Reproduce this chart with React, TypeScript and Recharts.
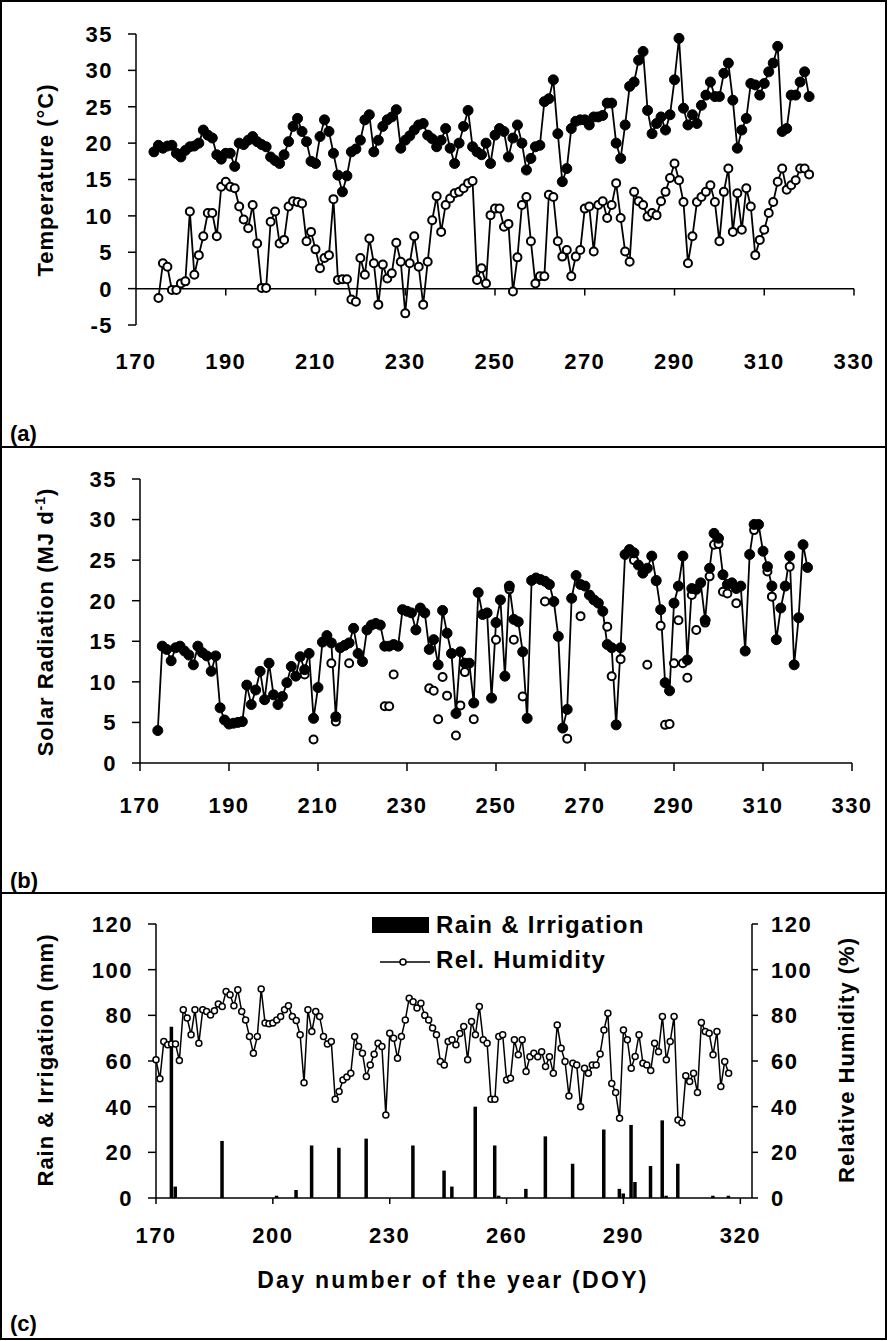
import React from "react";
import { ComposedChart, Line, Bar, XAxis, YAxis, ReferenceLine } from "recharts";

const FONT = '"Liberation Sans", Arial, Helvetica, sans-serif';

// (a) daily max / min air temperature, DOY 174.. / 175..
const TMAX_START = 174;
const tmaxValues = [
  18.8, 19.7, 19.3, 19.6, 19.7, 18.6, 18.1, 19.0, 19.5, 19.6,
  20.0, 21.8, 21.1, 20.7, 18.4, 17.8, 18.6, 18.6, 16.8, 20.0,
  19.8, 20.4, 20.9, 20.2, 19.8, 19.5, 18.1, 17.6, 17.2, 18.4,
  20.2, 22.3, 23.4, 21.6, 20.2, 17.5, 17.2, 20.9, 23.2, 21.6,
  18.6, 15.6, 13.3, 15.5, 18.8, 19.2, 20.4, 23.2, 23.9, 18.8,
  20.4, 22.3, 23.2, 23.6, 24.6, 19.3, 20.4, 21.0, 21.8, 22.5,
  22.7, 21.1, 20.6, 19.5, 20.4, 22.0, 19.3, 17.2, 20.0, 22.3,
  24.5, 19.5, 18.8, 18.4, 20.0, 17.2, 21.1, 22.0, 21.6, 18.1,
  20.7, 22.5, 20.0, 16.3, 17.9, 19.5, 19.7, 25.7, 26.1, 28.7,
  21.3, 14.7, 16.5, 22.0, 23.0, 23.2, 23.2, 22.5, 23.6, 23.6,
  23.8, 25.5, 25.5, 20.0, 17.9, 22.5, 27.8, 28.4, 31.4, 32.6,
  24.5, 21.3, 22.7, 23.6, 21.8, 23.9, 28.7, 34.4, 24.8, 22.5,
  23.9, 22.7, 25.2, 26.6, 28.4, 26.4, 26.4, 29.6, 31.0, 25.9,
  19.3, 21.8, 23.4, 28.2, 28.0, 26.6, 28.2, 29.8, 31.0, 33.3,
  21.6, 22.0, 26.6, 26.6, 28.4, 29.8, 26.4,
];
const TMIN_START = 175;
const tminValues = [
  -1.3, 3.5, 3.0, -0.2, -0.2, 0.7, 1.0, 10.6, 1.9,
  4.6, 7.2, 10.4, 10.4, 7.2, 14.0, 14.7, 14.0, 13.8, 11.3,
  9.5, 8.3, 11.5, 6.2, 0.1, 0.1, 9.2, 10.6, 6.2, 6.7,
  11.3, 12.0, 11.9, 11.7, 6.5, 7.8, 5.4, 2.8, 4.2, 4.6,
  12.3, 1.2, 1.3, 1.3, -1.5, -1.8, 4.2, 1.9, 6.9, 3.5,
  -2.2, 3.3, 1.4, 2.1, 6.3, 3.7, -3.4, 3.5, 7.2, 3.0,
  -2.2, 3.7, 9.4, 12.7, 7.8, 11.5, 12.4, 13.1, 13.3, 13.8,
  14.5, 14.8, 1.2, 2.8, 0.7, 10.1, 11.0, 11.0, 8.5, 8.9,
  -0.4, 4.3, 11.5, 12.6, 6.5, 0.7, 1.7, 1.7, 12.9, 12.6,
  6.5, 4.4, 5.3, 1.7, 4.4, 5.3, 11.0, 11.3, 5.1, 11.5,
  12.0, 9.7, 11.5, 14.5, 9.7, 5.1, 3.7, 13.3, 12.0, 11.5,
  9.9, 10.4, 10.1, 12.0, 13.3, 15.2, 17.2, 14.9, 11.9, 3.5,
  7.2, 11.9, 12.6, 13.3, 14.2, 11.9, 6.5, 13.3, 16.5, 7.8,
  13.1, 8.1, 13.8, 11.3, 4.6, 6.7, 8.1, 10.4, 11.9, 14.7,
  16.5, 13.6, 14.2, 14.9, 16.5, 16.5, 15.7,
];
const tempTicksX = [170, 190, 210, 230, 250, 270, 290, 310, 330];
const tempTicksY = [-5, 0, 5, 10, 15, 20, 25, 30, 35];

// (b) solar radiation, DOY 174..320 (filled) and the scattered open circles
const SOLAR_START = 174;
const solarFilled = [
  4.0, 14.4, 14.0, 12.6, 14.2, 14.4, 13.8, 13.3, 12.1, 14.4,
  13.6, 13.2, 11.3, 13.2, 6.8, 5.3, 4.8, 4.9, 5.0, 5.1,
  9.6, 7.2, 9.0, 11.3, 7.8, 12.3, 8.4, 7.2, 8.2, 9.9,
  11.9, 10.7, 13.1, 11.5, 13.5, 5.5, 9.3, 14.9, 15.7, 14.8,
  5.7, 14.2, 14.5, 14.8, 16.6, 13.5, 12.5, 16.4, 17.0, 17.2,
  17.0, 14.4, 14.4, 14.6, 14.4, 18.9, 18.7, 18.5, 16.4, 19.1,
  18.5, 14.0, 15.2, 12.1, 18.8, 16.0, 13.5, 6.1, 13.7, 12.3,
  12.3, 7.4, 21.0, 18.3, 18.5, 8.0, 17.3, 20.1, 10.7, 21.8,
  17.7, 17.4, 13.7, 5.5, 22.5, 22.8, 22.6, 22.4, 22.0, 19.9,
  15.6, 4.3, 6.6, 20.3, 23.1, 22.0, 21.8, 20.7, 20.1, 19.7,
  18.7, 14.6, 14.2, 4.7, 14.2, 25.7, 26.3, 25.9, 24.4, 23.4,
  24.0, 25.5, 22.5, 18.9, 9.9, 8.9, 19.7, 21.8, 25.5, 12.7,
  21.5, 21.4, 22.2, 17.6, 24.0, 28.3, 27.7, 23.2, 22.0, 22.2,
  21.5, 21.8, 13.8, 25.7, 29.4, 29.4, 26.1, 24.2, 21.8, 15.2,
  19.1, 21.8, 25.5, 12.1, 17.9, 26.9, 24.1,
];
const solarOpenDays = [
  207, 209, 213, 214, 217, 225, 226, 227, 235, 236, 237, 238, 239, 241, 242, 243,
  245, 250, 253, 254, 256, 261, 266, 269, 275, 276, 278, 281, 284, 286, 287, 288,
  289, 290, 291, 292, 293, 294, 295, 297, 298, 299, 300, 301, 302, 304, 308, 311,
  312, 316,
];
const solarOpenValues = [
  10.9, 2.9, 12.3, 5.1, 12.3, 7.0, 7.0, 10.9, 9.2, 8.9, 5.4, 10.6, 8.3, 3.4, 7.1, 11.2,
  5.4, 15.2, 21.4, 15.2, 8.2, 19.9, 3.0, 18.1, 16.8, 10.7, 12.8, 25.0, 12.1, 22.4, 16.9, 4.7,
  4.8, 12.3, 17.6, 12.3, 10.5, 20.7, 16.4, 17.3, 23.0, 26.9, 27.0, 21.1, 20.9, 19.7, 28.7, 23.6,
  20.5, 24.2,
];
const solarTicksY = [0, 5, 10, 15, 20, 25, 30, 35];

// (c) relative humidity DOY 170..317, rain & irrigation events
const RH_START = 170;
const rhValues = [
  60.5, 52.2, 68.5, 67.1, 67.5, 67.5, 60.2, 82.4, 78.8, 71.5,
  82.4, 67.8, 82.4, 81.7, 80.2, 82.0, 85.0, 83.9, 90.4, 89.0,
  84.2, 91.2, 81.7, 78.0, 70.7, 63.4, 70.7, 91.5, 76.6, 76.3,
  76.6, 78.0, 79.5, 82.4, 84.2, 79.5, 77.7, 71.5, 50.5, 82.4,
  72.9, 81.7, 79.5, 70.7, 67.5, 68.5, 43.2, 46.6, 51.7, 53.0,
  54.6, 70.7, 66.3, 63.4, 53.2, 58.3, 63.0, 67.8, 66.3, 36.4,
  72.2, 70.0, 61.2, 70.7, 78.0, 87.5, 86.0, 83.2, 85.3, 80.0,
  78.0, 74.4, 71.5, 59.8, 58.3, 68.5, 69.3, 67.1, 72.0, 75.1,
  60.5, 77.3, 71.5, 83.9, 69.3, 67.8, 43.2, 43.2, 70.7, 71.5,
  51.7, 52.4, 69.3, 62.7, 69.3, 55.4, 61.9, 63.4, 61.9, 64.1,
  57.6, 61.9, 54.6, 75.8, 65.6, 59.8, 44.7, 59.0, 58.3, 40.0,
  56.8, 54.6, 58.3, 58.3, 63.1, 73.6, 80.9, 50.2, 46.2, 34.9,
  73.6, 69.3, 56.8, 62.0, 71.5, 59.0, 58.3, 55.8, 67.8, 64.1,
  79.5, 60.5, 68.5, 79.5, 34.2, 33.0, 53.5, 51.0, 54.6, 46.2,
  76.9, 72.9, 72.2, 62.7, 72.9, 48.8, 59.8, 54.6,
];
const rainDays = [
  174, 175, 187, 201, 206, 210, 217, 224, 236, 244, 246, 252, 257, 258, 265, 270,
  277, 285, 289, 290, 292, 293, 297, 300, 301, 304, 313, 317,
];
const rainValues = [
  75, 5, 25, 1, 3.5, 23, 22, 26, 23, 12, 5, 40, 23, 1, 4, 27,
  15, 30, 4, 2, 32, 7, 14, 34, 1, 15, 1, 1,
];
const doyTicks = [170, 200, 230, 260, 290, 320];
const mmTicks = [0, 20, 40, 60, 80, 100, 120];

// merge series into one row per day
function mergeRows(series: Array<[string, number[], number[]]>) {
  const map = new Map<number, Record<string, number | null>>();
  for (const [key, days, values] of series) {
    days.forEach((d, i) => {
      if (!map.has(d)) map.set(d, { doy: d });
      map.get(d)![key] = values[i];
    });
  }
  return Array.from(map.values()).sort((a, b) => (a.doy as number) - (b.doy as number));
}

const daysFrom = (start: number, values: number[]) => values.map((_, i) => start + i);

const tempData = mergeRows([
  ["tmax", daysFrom(TMAX_START, tmaxValues), tmaxValues],
  ["tmin", daysFrom(TMIN_START, tminValues), tminValues],
]);
const solarData = mergeRows([
  ["filled", daysFrom(SOLAR_START, solarFilled), solarFilled],
  ["open", solarOpenDays, solarOpenValues],
]);
const rhData = mergeRows([
  ["rh", daysFrom(RH_START, rhValues), rhValues],
  ["rain", rainDays, rainValues],
]);

const tickText = { fontFamily: FONT, fontWeight: 700, fill: "#000", letterSpacing: 1.5 };

function YTick(props: any) {
  const { x, y, payload, textAnchor } = props;
  return (
    <text x={x} y={y} dy="0.36em" textAnchor={textAnchor} fontSize={22} {...tickText}>
      {payload.value}
    </text>
  );
}

function XTick(props: any) {
  const { x, y, payload } = props;
  return (
    <text x={x} y={y} dy="0.71em" textAnchor="middle" fontSize={22} {...tickText}>
      {payload.value}
    </text>
  );
}

const axisStroke = { stroke: "#000", strokeWidth: 1.5 };

function TemperaturePanel() {
  return (
    <ComposedChart width={889} height={447} data={tempData} margin={{ top: 34, right: 35, bottom: 0, left: 0 }}>
      <XAxis
        dataKey="doy"
        type="number"
        domain={[170, 330]}
        ticks={tempTicksX}
        interval={0}
        height={122}
        axisLine={false}
        tickLine={false}
        tickSize={0}
        tickMargin={28}
        tick={<XTick />}
      />
      <YAxis
        type="number"
        domain={[-5, 35]}
        ticks={tempTicksY}
        interval={0}
        width={136}
        axisLine={axisStroke}
        tickLine={axisStroke}
        tickSize={8}
        tickMargin={15}
        tick={<YTick />}
      />
      <ReferenceLine y={0} stroke="#000" strokeWidth={1.5} />
      {tempTicksX.slice(1).map((t) => (
        <ReferenceLine key={t} segment={[{ x: t, y: 0 }, { x: t, y: -0.95 }]} stroke="#000" strokeWidth={1.5} />
      ))}
      <Line
        dataKey="tmax"
        stroke="#000"
        strokeWidth={1.8}
        dot={{ r: 5, fill: "#000", stroke: "#000", strokeWidth: 1 }}
        isAnimationActive={false}
      />
      <Line
        dataKey="tmin"
        stroke="#000"
        strokeWidth={1.8}
        dot={{ r: 4, fill: "#fff", stroke: "#000", strokeWidth: 2 }}
        isAnimationActive={false}
      />
    </ComposedChart>
  );
}

function SolarPanel() {
  return (
    <ComposedChart width={889} height={446} data={solarData} margin={{ top: 32, right: 37, bottom: 0, left: 0 }}>
      <XAxis
        dataKey="doy"
        type="number"
        domain={[170, 330]}
        ticks={tempTicksX}
        interval={0}
        height={130}
        axisLine={axisStroke}
        tickLine={axisStroke}
        tickSize={8}
        tickMargin={26}
        tick={<XTick />}
      />
      <YAxis
        type="number"
        domain={[0, 35]}
        ticks={solarTicksY}
        interval={0}
        width={140}
        axisLine={axisStroke}
        tickLine={axisStroke}
        tickSize={8}
        tickMargin={15}
        tick={<YTick />}
      />
      <Line
        dataKey="open"
        stroke="none"
        dot={{ r: 4, fill: "#fff", stroke: "#000", strokeWidth: 2 }}
        isAnimationActive={false}
      />
      <Line
        dataKey="filled"
        stroke="#000"
        strokeWidth={1.8}
        connectNulls
        dot={{ r: 5, fill: "#000", stroke: "#000", strokeWidth: 1 }}
        isAnimationActive={false}
      />
    </ComposedChart>
  );
}

function RainHumidityPanel() {
  return (
    <ComposedChart width={889} height={448} data={rhData} margin={{ top: 31, right: 0, bottom: 0, left: 0 }}>
      <XAxis
        dataKey="doy"
        type="number"
        domain={[170, 323]}
        ticks={doyTicks}
        interval={0}
        height={143}
        axisLine={axisStroke}
        tickLine={axisStroke}
        tickSize={6}
        tickMargin={23}
        tick={<XTick />}
      />
      <YAxis
        yAxisId="left"
        type="number"
        domain={[0, 120]}
        ticks={mmTicks}
        interval={0}
        width={156}
        axisLine={axisStroke}
        tickLine={axisStroke}
        tickSize={8}
        tickMargin={15}
        tick={<YTick />}
      />
      <YAxis
        yAxisId="right"
        orientation="right"
        type="number"
        domain={[0, 120]}
        ticks={mmTicks}
        interval={0}
        width={137}
        axisLine={axisStroke}
        tickLine={axisStroke}
        tickSize={6}
        tickMargin={13}
        tick={<YTick />}
      />
      <Bar yAxisId="left" dataKey="rain" fill="#000" barSize={4} isAnimationActive={false} />
      <Line
        yAxisId="right"
        dataKey="rh"
        stroke="#000"
        strokeWidth={1.5}
        dot={{ r: 3, fill: "#fff", stroke: "#000", strokeWidth: 1.5 }}
        isAnimationActive={false}
      />
    </ComposedChart>
  );
}

const titleText = { fontFamily: FONT, fontWeight: 700, fill: "#000", fontSize: 22, letterSpacing: 1 };

function Overlay() {
  return (
    <svg width={889} height={1341} style={{ position: "absolute", left: 0, top: 0, pointerEvents: "none" }}>
      <rect x={1} y={1} width={885} height={1338} fill="none" stroke="#000" strokeWidth={2} />
      <line x1={1} y1={447} x2={886} y2={447} stroke="#000" strokeWidth={2} />
      <line x1={1} y1={893} x2={886} y2={893} stroke="#000" strokeWidth={2} />

      <text x={53} y={180} transform="rotate(-90 53 180)" textAnchor="middle" {...titleText}>
        Temperature (°C)
      </text>
      <text x={53} y={622} transform="rotate(-90 53 622)" textAnchor="middle" {...titleText}>
        Solar Radiation (MJ d<tspan dy={-8} fontSize={14}>-1</tspan>
        <tspan dy={8}>)</tspan>
      </text>
      <text x={53} y={1060} transform="rotate(-90 53 1060)" textAnchor="middle" {...titleText}>
        Rain &amp; Irrigation (mm)
      </text>
      <text x={854} y={1060} transform="rotate(-90 854 1060)" textAnchor="middle" {...titleText}>
        Relative Humidity (%)
      </text>
      <text x={453} y={1288} textAnchor="middle" {...titleText} fontSize={23} letterSpacing={2.3}>
        Day number of the year (DOY)
      </text>

      <text x={10} y={441} {...titleText} letterSpacing={0}>(a)</text>
      <text x={10} y={888} {...titleText} letterSpacing={0}>(b)</text>
      <text x={10} y={1331} {...titleText} letterSpacing={0}>(c)</text>

      <rect x={372} y={917} width={57} height={16} fill="#000" />
      <text x={436} y={933} {...titleText} fontSize={24} letterSpacing={1.3}>Rain &amp; Irrigation</text>
      <line x1={380} y1={962} x2={430} y2={962} stroke="#000" strokeWidth={1.5} />
      <circle cx={403} cy={962} r={3} fill="#fff" stroke="#000" strokeWidth={1.5} />
      <text x={436} y={968} {...titleText} fontSize={24} letterSpacing={1.3}>Rel. Humidity</text>
    </svg>
  );
}

export default function App() {
  return (
    <div style={{ position: "absolute", left: 0, top: 0, width: 889, height: 1341, background: "#fff" }}>
      <div style={{ position: "absolute", left: 0, top: 0 }}>
        <TemperaturePanel />
      </div>
      <div style={{ position: "absolute", left: 0, top: 447 }}>
        <SolarPanel />
      </div>
      <div style={{ position: "absolute", left: 0, top: 893 }}>
        <RainHumidityPanel />
      </div>
      <Overlay />
    </div>
  );
}
